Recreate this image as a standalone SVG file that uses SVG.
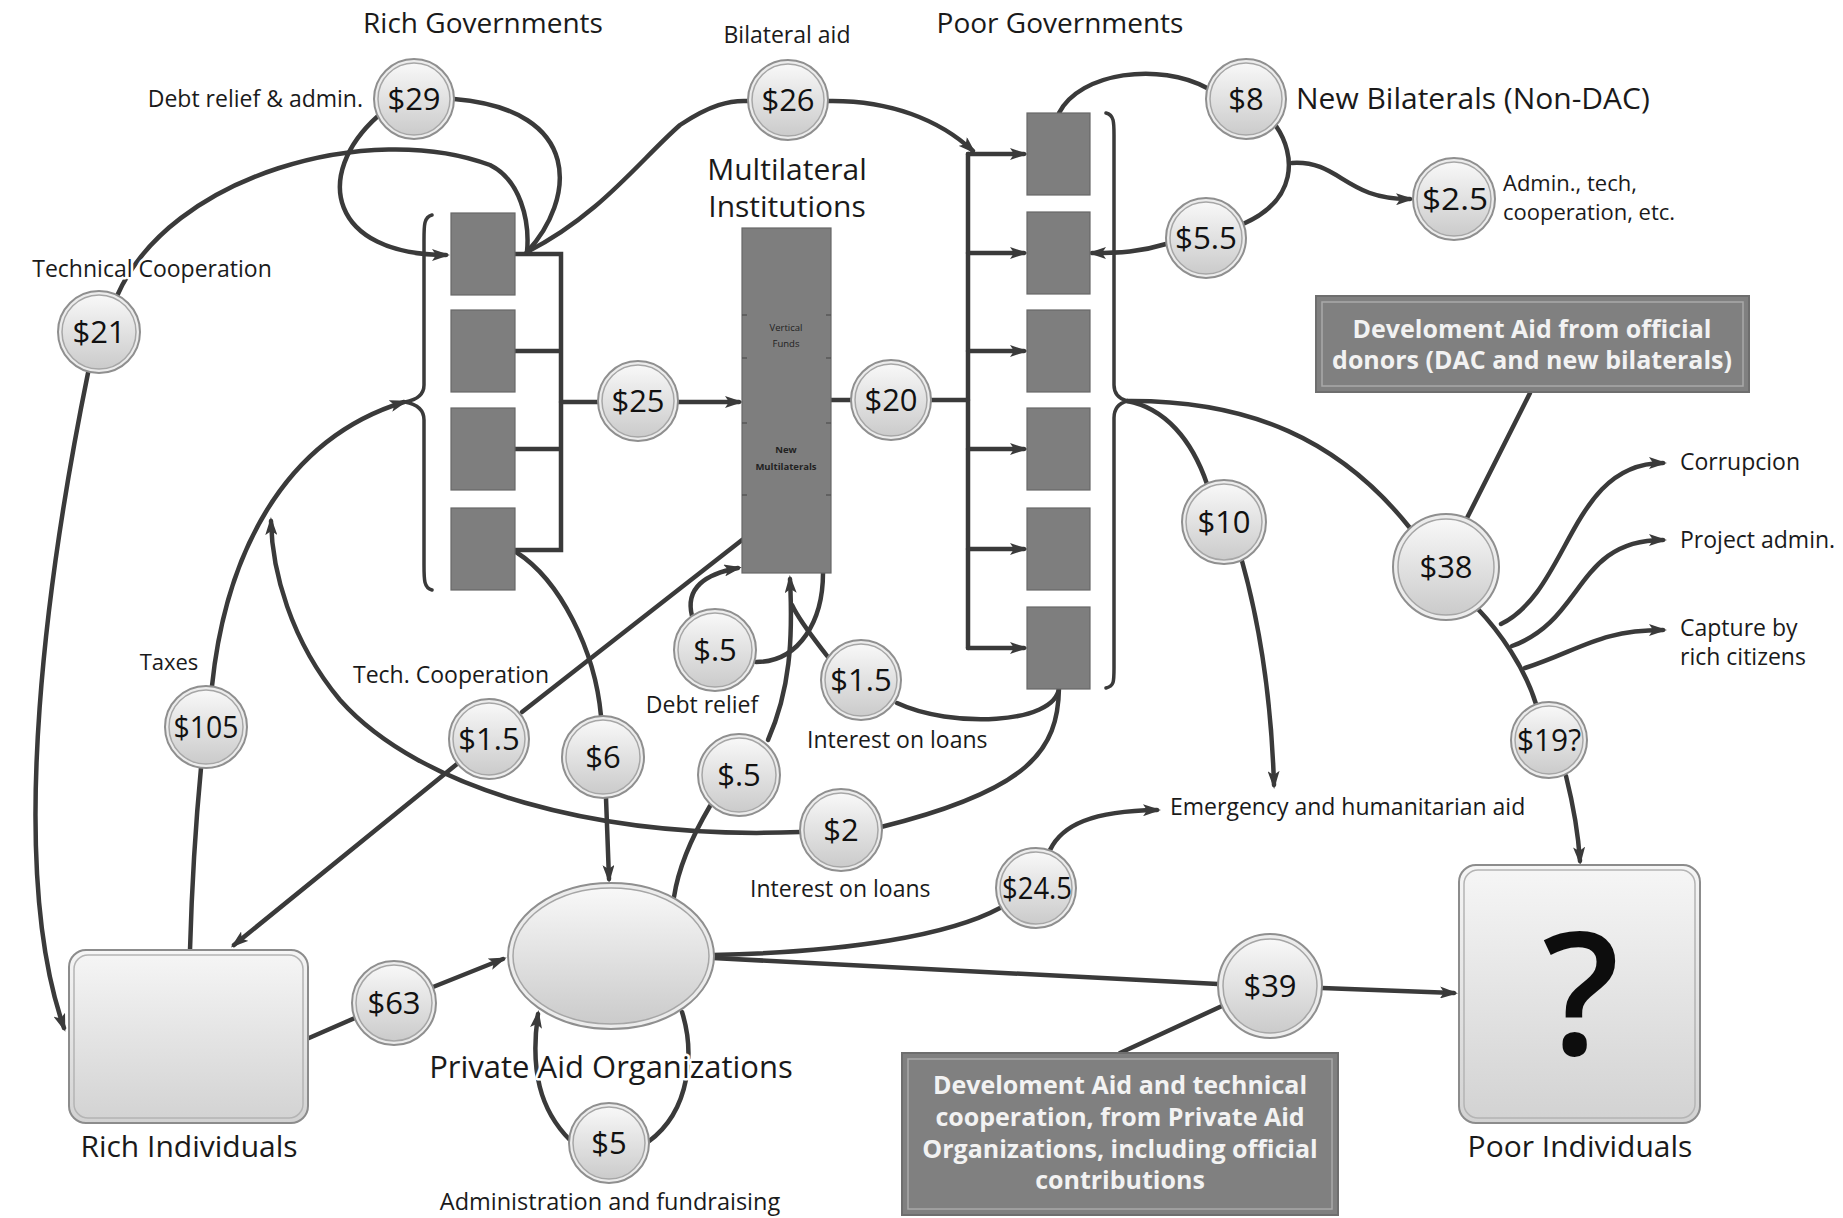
<svg xmlns="http://www.w3.org/2000/svg" width="1843" height="1218" viewBox="0 0 1843 1218">
<defs>
<linearGradient id="gc" x1="0" y1="0" x2="0" y2="1"><stop offset="0" stop-color="#f8f8f8"/><stop offset="1" stop-color="#cbcbcb"/></linearGradient>
<linearGradient id="gb" x1="0" y1="0" x2="0" y2="1"><stop offset="0" stop-color="#f6f6f6"/><stop offset="1" stop-color="#d2d2d2"/></linearGradient>
<marker id="ah" viewBox="0 0 18 12" refX="14" refY="6" markerWidth="18" markerHeight="12" markerUnits="userSpaceOnUse" orient="auto"><path d="M0,0 L18,6 L0,12 L4,6 z" fill="#3a3a3a"/></marker>
<style>
.c{fill:none;stroke:#3a3a3a;stroke-width:4.5;stroke-linecap:round}
.a{marker-end:url(#ah)}
.br{fill:none;stroke:#3a3a3a;stroke-width:3.5;stroke-linecap:round}
.lbl{font-family:"Open Sans","Liberation Sans",sans-serif;fill:#1a1a1a;paint-order:stroke;stroke:#fff;stroke-width:5;stroke-linejoin:round}
.s{font-size:23px}
.ring{fill:#ececec;stroke:#8f8f8f;stroke-width:2}
.core{fill:url(#gc);stroke:#a6a6a6;stroke-width:1.5}
.amt text{font-family:"Open Sans","Liberation Sans",sans-serif;font-size:31px;text-anchor:middle;fill:#111}
.gbox{fill:#7e7e7e;stroke:#686868;stroke-width:1.2}
.dbox{fill:#808080;stroke:#6e6e6e;stroke-width:2}
.dbin{fill:none;stroke:#a9a9a9;stroke-width:1.5}
.dt{font-family:"Open Sans","Liberation Sans",sans-serif;font-weight:700;font-size:25px;fill:#f2f2f2;text-anchor:middle}
.tick{stroke:#444;stroke-width:1.2}
.tiny{font-family:"Open Sans","Liberation Sans",sans-serif;font-size:9.5px;fill:#222;text-anchor:middle}
.wbox{fill:url(#gb);stroke:#8c8c8c;stroke-width:2}
.wbin{fill:none;stroke:#b4b4b4;stroke-width:1.5}
</style>
</defs>
<rect width="1843" height="1218" fill="#ffffff"/>

<g id="connectors">
<path class="br" d="M432 215 C424 217 424 225 424 240 L424 385 C424 395 416 400 405 402 C416 404 424 409 424 420 L424 565 C424 580 424 588 432 590"/>
<path class="c" d="M515 254 L561 254 L561 550 L515 550 M515 351 L561 351 M515 449 L561 449"/>
<path class="br" d="M1106 113 C1114 115 1114 122 1114 135 L1114 385 C1114 395 1120 399 1127 401 C1120 403 1114 408 1114 418 L1114 668 C1114 682 1114 686 1106 688"/>
<path class="c" d="M968 154 L968 648"/>
<path class="c a" d="M968 154 L1024 154"/>
<path class="c a" d="M968 253 L1024 253"/>
<path class="c a" d="M968 351 L1024 351"/>
<path class="c a" d="M968 449 L1024 449"/>
<path class="c a" d="M968 549 L1024 549"/>
<path class="c a" d="M968 648 L1024 648"/>
<path class="c" d="M527 252 C575 200 585 110 454 99"/>
<path class="c a" d="M378 116 C312 175 330 255 446 255"/>
<path class="c" d="M117 296 C170 175 370 120 490 165 C520 180 530 220 527 252"/>
<path class="c a" d="M88 373 C50 560 5 860 64 1028"/>
<path class="c" d="M527 252 C600 215 640 160 680 125 C710 105 730 100 748 101"/>
<path class="c a" d="M828 101 C890 100 940 120 973 151"/>
<path class="c" d="M561 402 L598 402"/>
<path class="c a" d="M678 402 L739 402"/>
<path class="c" d="M831 400 L851 400 M931 400 L968 400"/>
<path class="c" d="M1059 113 C1080 72 1160 62 1207 88"/>
<path class="c" d="M1276 126 C1296 155 1298 200 1243 224"/>
<path class="c a" d="M1292 163 C1340 160 1345 200 1410 199"/>
<path class="c a" d="M1166 244 C1140 252 1120 253 1092 253"/>
<path class="c a" d="M212 686 C225 560 280 440 404 402"/>
<path class="c" d="M190 950 C192 880 196 820 201 768"/>
<path class="c a" d="M800 832 C600 840 420 790 340 700 C290 640 272 570 271 521"/>
<path class="c" d="M1059 688 C1058 750 1030 790 881 827"/>
<path class="c" d="M742 540 L522 712"/>
<path class="c a" d="M457 764 L234 945"/>
<path class="c" d="M516 552 C560 580 595 650 601 716"/>
<path class="c a" d="M606 798 L609 879"/>
<path class="c" d="M823 573 C823 620 800 662 756 662"/>
<path class="c a" d="M692 616 C685 588 705 574 738 568"/>
<path class="c a" d="M768 740 C790 690 793 640 790 579"/>
<path class="c" d="M828 657 C815 640 800 622 792 605"/>
<path class="c" d="M1059 688 C1055 725 950 728 897 703"/>
<path class="c" d="M710 806 C690 840 678 870 674 897"/>
<path class="c" d="M309 1038 L355 1018"/>
<path class="c a" d="M433 987 L503 959"/>
<path class="c" d="M682 1012 C694 1050 692 1110 648 1142"/>
<path class="c a" d="M570 1140 C540 1110 530 1070 538 1014"/>
<path class="c" d="M713 958 L1218 984"/>
<path class="c" d="M713 955 C850 952 950 935 1000 908"/>
<path class="c a" d="M1050 850 C1062 825 1092 811 1157 810"/>
<path class="c" d="M1222 1006 L1120 1053"/>
<path class="c a" d="M1322 988 L1454 993"/>
<path class="c" d="M1530 393 L1467 518"/>
<path class="c" d="M1127 401 C1250 400 1340 440 1410 528"/>
<path class="c" d="M1127 401 C1165 408 1192 440 1207 484"/>
<path class="c a" d="M1242 561 C1264 640 1272 720 1274 785"/>
<path class="c" d="M1477 608 C1500 632 1525 668 1536 704"/>
<path class="c a" d="M1566 776 C1572 800 1578 830 1580 861"/>
<path class="c a" d="M1501 624 C1570 590 1570 463 1663 463"/>
<path class="c a" d="M1512 646 C1585 620 1575 540 1663 540"/>
<path class="c a" d="M1525 668 C1580 650 1600 630 1663 630"/>
</g>

<g id="rich-governments">
<rect class="gbox" x="451" y="213" width="64" height="82"/>
<rect class="gbox" x="451" y="310" width="64" height="82"/>
<rect class="gbox" x="451" y="408" width="64" height="82"/>
<rect class="gbox" x="451" y="508" width="64" height="82"/>
<text class="lbl" x="483" y="33" text-anchor="middle" font-size="28">Rich Governments</text>
</g>

<g id="poor-governments">
<rect class="gbox" x="1027" y="113" width="63" height="82"/>
<rect class="gbox" x="1027" y="212" width="63" height="82"/>
<rect class="gbox" x="1027" y="310" width="63" height="82"/>
<rect class="gbox" x="1027" y="408" width="63" height="82"/>
<rect class="gbox" x="1027" y="508" width="63" height="82"/>
<rect class="gbox" x="1027" y="607" width="63" height="82"/>
<text class="lbl" x="1060" y="33" text-anchor="middle" font-size="28">Poor Governments</text>
</g>

<g id="multilateral">
<rect class="gbox" x="742" y="228" width="89" height="345"/>
<path class="tick" d="M742 315 h5 M742 358 h5 M742 423 h5 M742 495 h5 M831 315 h-5 M831 358 h-5 M831 423 h-5 M831 495 h-5"/>
<text class="tiny" x="786" y="331">Vertical<tspan x="786" dy="16">Funds</tspan></text>
<text class="tiny" x="786" y="453" font-weight="700">New<tspan x="786" dy="17">Multilaterals</tspan></text>
<text class="lbl" x="787" y="180" text-anchor="middle" font-size="30">Multilateral<tspan x="787" dy="37">Institutions</tspan></text>
</g>

<g id="rich-individuals">
<rect class="wbox" x="69" y="950" width="239" height="173" rx="17"/>
<rect class="wbin" x="74" y="955" width="229" height="163" rx="14"/>
<text class="lbl" x="189" y="1157" text-anchor="middle" font-size="30">Rich Individuals</text>
</g>

<g id="poor-individuals">
<rect class="wbox" x="1459" y="865" width="241" height="258" rx="17"/>
<rect class="wbin" x="1464" y="870" width="231" height="248" rx="14"/>
<text x="1581" y="1055" font-family="Open Sans, Liberation Sans, sans-serif" font-size="170" font-weight="600" fill="#0d0d0d" text-anchor="middle">?</text>
<text class="lbl" x="1580" y="1157" text-anchor="middle" font-size="30">Poor Individuals</text>
</g>

<g id="private-aid">
<ellipse cx="611" cy="956" rx="103" ry="73" fill="#ececec" stroke="#8f8f8f" stroke-width="2"/>
<ellipse cx="611" cy="956" rx="98" ry="68" fill="url(#gc)" stroke="#a6a6a6" stroke-width="1.5"/>
<text class="lbl" x="611" y="1078" text-anchor="middle" font-size="31">Private Aid Organizations</text>
</g>

<g id="official-note">
<rect class="dbox" x="1316" y="296" width="433" height="96"/>
<rect class="dbin" x="1322" y="302" width="421" height="84"/>
<text class="dt" x="1532" y="338">Develoment Aid from official<tspan x="1532" dy="31">donors (DAC and new bilaterals)</tspan></text>
</g>

<g id="private-note">
<rect class="dbox" x="902" y="1053" width="436" height="162"/>
<rect class="dbin" x="908" y="1059" width="424" height="150"/>
<text class="dt" x="1120" y="1094">Develoment Aid and technical<tspan x="1120" dy="32">cooperation, from Private Aid</tspan><tspan x="1120" dy="32">Organizations, including official</tspan><tspan x="1120" dy="31">contributions</tspan></text>
</g>

<g id="labels">
<text class="lbl" x="787" y="43" text-anchor="middle" font-size="23">Bilateral aid</text>
<text class="lbl" x="363" y="107" text-anchor="end" font-size="23">Debt relief &amp; admin.</text>
<text class="lbl" x="1296" y="109" font-size="30">New Bilaterals (Non-DAC)</text>
<text class="lbl" x="1503" y="191" font-size="22">Admin., tech,<tspan x="1503" dy="29">cooperation, etc.</tspan></text>
<text class="lbl s" x="152" y="277" text-anchor="middle">Technical Cooperation</text>
<text class="lbl" x="169" y="670" text-anchor="middle" font-size="22">Taxes</text>
<text class="lbl s" x="451" y="683" text-anchor="middle">Tech. Cooperation</text>
<text class="lbl s" x="702" y="713" text-anchor="middle">Debt relief</text>
<text class="lbl s" x="807" y="748">Interest on loans</text>
<text class="lbl s" x="750" y="897">Interest on loans</text>
<text class="lbl s" x="1170" y="815">Emergency and humanitarian aid</text>
<text class="lbl s" x="1680" y="470">Corrupcion</text>
<text class="lbl s" x="1680" y="548">Project admin.</text>
<text class="lbl s" x="1680" y="636">Capture by<tspan x="1680" dy="29">rich citizens</tspan></text>
<text class="lbl" x="610" y="1210" text-anchor="middle" font-size="23.5">Administration and fundraising</text>
</g>

<g id="a29" class="amt"><circle class="ring" cx="414" cy="99" r="40"/><circle class="core" cx="414" cy="99" r="36"/><text x="414" y="110">$29</text></g>
<g id="a26" class="amt"><circle class="ring" cx="788" cy="100" r="40"/><circle class="core" cx="788" cy="100" r="36"/><text x="788" y="111">$26</text></g>
<g id="a8" class="amt"><circle class="ring" cx="1246" cy="99" r="40"/><circle class="core" cx="1246" cy="99" r="36"/><text x="1246" y="110">$8</text></g>
<g id="a2-5" class="amt"><circle class="ring" cx="1454" cy="199" r="41"/><circle class="core" cx="1454" cy="199" r="37"/><text x="1455" y="210" textLength="66" lengthAdjust="spacingAndGlyphs">$2.5</text></g>
<g id="a5-5" class="amt"><circle class="ring" cx="1206" cy="238" r="40"/><circle class="core" cx="1206" cy="238" r="36"/><text x="1206" y="249" textLength="62" lengthAdjust="spacingAndGlyphs">$5.5</text></g>
<g id="a21" class="amt"><circle class="ring" cx="99" cy="332" r="41"/><circle class="core" cx="99" cy="332" r="37"/><text x="99" y="343">$21</text></g>
<g id="a25" class="amt"><circle class="ring" cx="638" cy="401" r="40"/><circle class="core" cx="638" cy="401" r="36"/><text x="638" y="412">$25</text></g>
<g id="a20" class="amt"><circle class="ring" cx="891" cy="400" r="40"/><circle class="core" cx="891" cy="400" r="36"/><text x="891" y="411">$20</text></g>
<g id="a105" class="amt"><circle class="ring" cx="206" cy="727" r="41"/><circle class="core" cx="206" cy="727" r="37"/><text x="206" y="738" textLength="65" lengthAdjust="spacingAndGlyphs">$105</text></g>
<g id="a1-5t" class="amt"><circle class="ring" cx="489" cy="739" r="40"/><circle class="core" cx="489" cy="739" r="36"/><text x="489" y="750">$1.5</text></g>
<g id="a6" class="amt"><circle class="ring" cx="603" cy="757" r="41"/><circle class="core" cx="603" cy="757" r="37"/><text x="603" y="768">$6</text></g>
<g id="a0-5d" class="amt"><circle class="ring" cx="715" cy="650" r="41"/><circle class="core" cx="715" cy="650" r="37"/><text x="715" y="661">$.5</text></g>
<g id="a1-5i" class="amt"><circle class="ring" cx="861" cy="680" r="40"/><circle class="core" cx="861" cy="680" r="36"/><text x="861" y="691">$1.5</text></g>
<g id="a0-5l" class="amt"><circle class="ring" cx="739" cy="775" r="41"/><circle class="core" cx="739" cy="775" r="37"/><text x="739" y="786">$.5</text></g>
<g id="a2" class="amt"><circle class="ring" cx="841" cy="830" r="41"/><circle class="core" cx="841" cy="830" r="37"/><text x="841" y="841">$2</text></g>
<g id="a10" class="amt"><circle class="ring" cx="1224" cy="522" r="42"/><circle class="core" cx="1224" cy="522" r="38"/><text x="1224" y="533">$10</text></g>
<g id="a38" class="amt"><circle class="ring" cx="1446" cy="567" r="53"/><circle class="core" cx="1446" cy="567" r="48"/><text x="1446" y="578">$38</text></g>
<g id="a19" class="amt"><circle class="ring" cx="1549" cy="740" r="38"/><circle class="core" cx="1549" cy="740" r="34"/><text x="1549" y="751" textLength="64" lengthAdjust="spacingAndGlyphs">$19?</text></g>
<g id="a24-5" class="amt"><circle class="ring" cx="1036" cy="888" r="40"/><circle class="core" cx="1036" cy="888" r="36"/><text x="1037" y="899" textLength="70" lengthAdjust="spacingAndGlyphs">$24.5</text></g>
<g id="a39" class="amt"><circle class="ring" cx="1270" cy="986" r="52"/><circle class="core" cx="1270" cy="986" r="47"/><text x="1270" y="997">$39</text></g>
<g id="a63" class="amt"><circle class="ring" cx="394" cy="1003" r="42"/><circle class="core" cx="394" cy="1003" r="38"/><text x="394" y="1014">$63</text></g>
<g id="a5" class="amt"><circle class="ring" cx="609" cy="1143" r="40"/><circle class="core" cx="609" cy="1143" r="36"/><text x="609" y="1154">$5</text></g>
</svg>
